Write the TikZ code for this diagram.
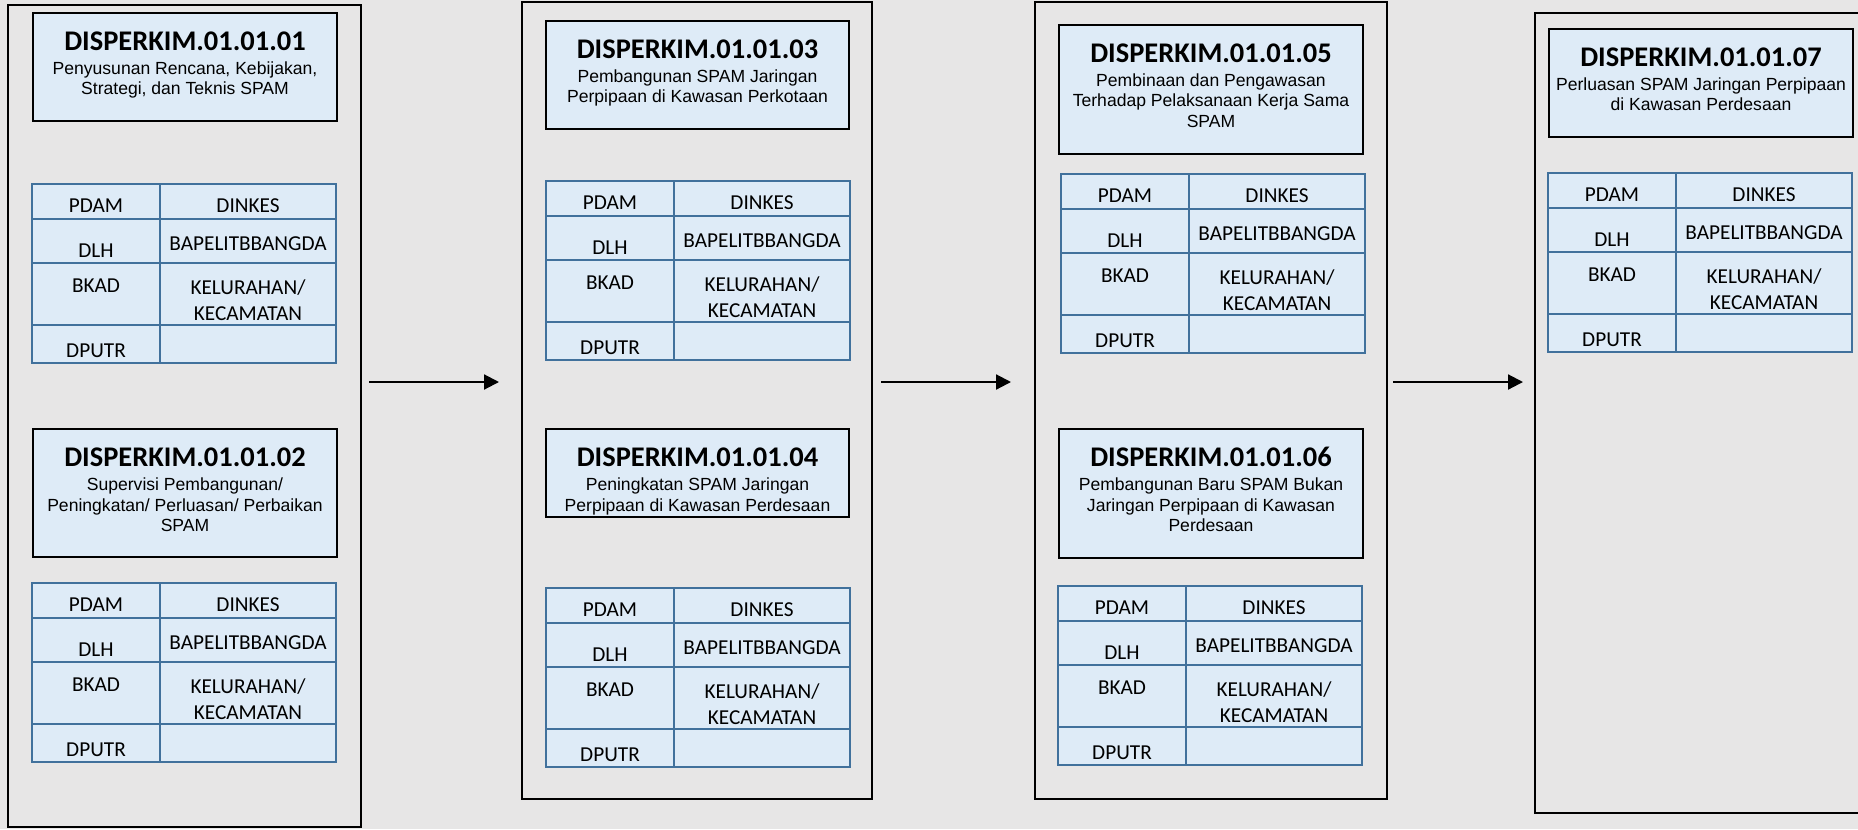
\documentclass[tikz,border=0pt]{standalone}
\usepackage{fontspec}
\setmainfont{Carlito}
\newfontfamily\descfont{Liberation Sans}
\usetikzlibrary{arrows.meta,fit}
\definecolor{bggray}{HTML}{E7E6E6}
\definecolor{cellblue}{HTML}{DEEBF7}
\definecolor{gridblue}{HTML}{41719C}

\begin{document}
\begin{tikzpicture}[x=0.02cm,y=-0.02cm,>={Triangle[length=8.5pt,width=8.5pt]},
   panel/.style={draw=black, line width=1.3pt, fill=bggray, inner sep=0pt},
   codebox/.style={draw=black, line width=1.6pt, fill=cellblue, inner sep=0pt},
   code/.style={anchor=base, inner sep=0pt, font=\fontsize{16.2}{19}\selectfont\bfseries},
   desc/.style={anchor=north, align=center, inner sep=0pt, font=\descfont\fontsize{10}{11.9}\selectfont},
   tablegrid/.style={draw=gridblue, line width=1.2pt},
   agency/.style={inner sep=0pt, align=center, font=\fontsize{12.1}{14.7}\selectfont},
   flow/.style={->, line width=1.2pt}]
   \fill[bggray] (0,0) rectangle (1858,829);
   \useasboundingbox (0,0) rectangle (1858,829);

   % the four stages
   \node[panel, fit={(8,5) (361,827)}] (p1) {};
   \node[panel, fit={(522,2) (872,799)}] (p2) {};
   \node[panel, fit={(1035,2) (1387,799)}] (p3) {};
   \node[panel, fit={(1535,13) (1880,813)}] (p4) {};

   % programme boxes
   \node[codebox, fit={(33,13) (337,121)}] (b1) {};
   \node[code] (b1-code) at (185,50) {DISPERKIM.01.01.01};
   \node[desc] (b1-desc) at (185,61) {Penyusunan Rencana, Kebijakan,\\Strategi, dan Teknis SPAM};
   \node[codebox, fit={(33,429) (337,557)}] (b2) {};
   \node[code] (b2-code) at (185,466) {DISPERKIM.01.01.02};
   \node[desc] (b2-desc) at (185,477) {Supervisi Pembangunan/\\Peningkatan/ Perluasan/ Perbaikan\\SPAM};
   \node[codebox, fit={(546,21) (849,129)}] (b3) {};
   \node[code] (b3-code) at (697.5,58) {DISPERKIM.01.01.03};
   \node[desc] (b3-desc) at (697.5,69) {Pembangunan SPAM Jaringan\\Perpipaan di Kawasan Perkotaan};
   \node[codebox, fit={(546,429) (849,517)}] (b4) {};
   \node[code] (b4-code) at (697.5,466) {DISPERKIM.01.01.04};
   \node[desc] (b4-desc) at (697.5,477) {Peningkatan SPAM Jaringan\\Perpipaan di Kawasan Perdesaan};
   \node[codebox, fit={(1059,25) (1363,154)}] (b5) {};
   \node[code] (b5-code) at (1211,62) {DISPERKIM.01.01.05};
   \node[desc] (b5-desc) at (1211,73) {Pembinaan dan Pengawasan\\Terhadap Pelaksanaan Kerja Sama\\SPAM};
   \node[codebox, fit={(1059,429) (1363,558)}] (b6) {};
   \node[code] (b6-code) at (1211,466) {DISPERKIM.01.01.06};
   \node[desc] (b6-desc) at (1211,477) {Pembangunan Baru SPAM Bukan\\Jaringan Perpipaan di Kawasan\\Perdesaan};
   \node[codebox, fit={(1549,29) (1853,137)}] (b7) {};
   \node[code] (b7-code) at (1701,66) {DISPERKIM.01.01.07};
   \node[desc] (b7-desc) at (1701,77) {Perluasan SPAM Jaringan Perpipaan\\di Kawasan Perdesaan};

   % agency tables
   \foreach \t/\x/\y in {1/32/184,2/32/583,3/546/181,4/546/588,5/1061/174,6/1058/586,7/1548/173}{
      \draw[tablegrid, fill=cellblue] (\x,\y) rectangle ++(304,179);
      \draw[tablegrid] (\x,\y+35) -- ++(304,0) (\x,\y+79) -- ++(304,0) (\x,\y+141) -- ++(304,0) (\x+128,\y) -- ++(0,179);
      \node[agency] (t\t-pdam) at (\x+64,\y+22) {PDAM};
      \node[agency] (t\t-dinkes) at (\x+216,\y+22) {DINKES};
      \node[agency] (t\t-dlh) at (\x+64,\y+67) {DLH};
      \node[agency] (t\t-bapel) at (\x+216,\y+60) {BAPELITBBANGDA};
      \node[agency] (t\t-bkad) at (\x+64,\y+102) {BKAD};
      \node[agency] (t\t-kel) at (\x+216,\y+116) {KELURAHAN/\\KECAMATAN};
      \node[agency] (t\t-dputr) at (\x+64,\y+167) {DPUTR};
   }

   % arrows between stages
   \coordinate (a1) at (369,382);
   \coordinate (a2) at (499,382);
   \coordinate (a3) at (881,382);
   \coordinate (a4) at (1011,382);
   \coordinate (a5) at (1393,382);
   \coordinate (a6) at (1523,382);
   \draw[flow] (a1) -- (a2);
   \draw[flow] (a3) -- (a4);
   \draw[flow] (a5) -- (a6);
\end{tikzpicture}
\end{document}
